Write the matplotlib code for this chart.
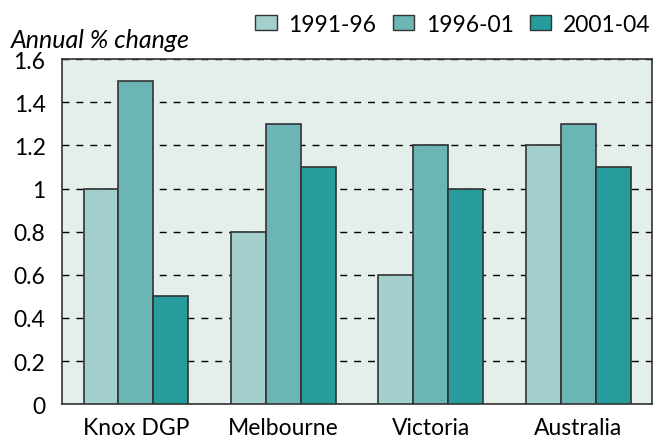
import numpy as np
import matplotlib.pyplot as plt
from matplotlib.patches import Patch

regions = ['Knox DGP', 'Melbourne', 'Victoria', 'Australia']
periods = ['1991-96', '1996-01', '2001-04']
p1991_96 = [1.0, 0.8, 0.6, 1.2]
p1996_01 = [1.5, 1.3, 1.2, 1.3]
p2001_04 = [0.5, 1.1, 1.0, 1.1]
colors = ['#a3cfcd', '#6bb5b5', '#279c9c']

plt.rcParams['font.family'] = ['Lato', 'DejaVu Sans']
fs = 16.5

fig = plt.figure(figsize=(6.62, 4.39), dpi=100)
ax = fig.add_axes([0.094, 0.077, 0.891, 0.786])
ax.set_facecolor('#e4eeeb')

x = np.arange(len(regions))
w = 0.237
for i, vals in enumerate([p1991_96, p1996_01, p2001_04]):
    ax.bar(x + (i - 1) * w, vals, w, color=colors[i], edgecolor='#333333',
           linewidth=1.2, zorder=3)

ax.set_xlim(-0.5, 3.5)
ax.set_ylim(0, 1.6)
ax.set_yticks(np.arange(0, 1.61, 0.2))
ax.set_yticklabels(['0', '0.2', '0.4', '0.6', '0.8', '1', '1.2', '1.4', '1.6'])
ax.set_xticks(x)
ax.set_xticklabels(regions)
ax.tick_params(length=0, labelsize=fs)
ax.tick_params(axis='y', pad=12)
ax.tick_params(axis='x', pad=9)
ax.yaxis.grid(True, linestyle=(0, (5, 5)), color='black', linewidth=1, zorder=1)
for s in ax.spines.values():
    s.set_color('#333333')
    s.set_linewidth(1.2)

fig.text(0.016, 0.89, 'Annual % change', fontsize=18, style='italic')

handles = [Patch(facecolor=c, edgecolor='#333333', linewidth=1) for c in colors]
fig.legend(handles, periods, loc='upper right', bbox_to_anchor=(1.005, 1.0),
           ncol=3, frameon=False, fontsize=fs, handlelength=0.95,
           handleheight=0.65, handletextpad=0.5, columnspacing=0.7,
           borderaxespad=0.25)

fig.savefig('out.png', dpi=100)
